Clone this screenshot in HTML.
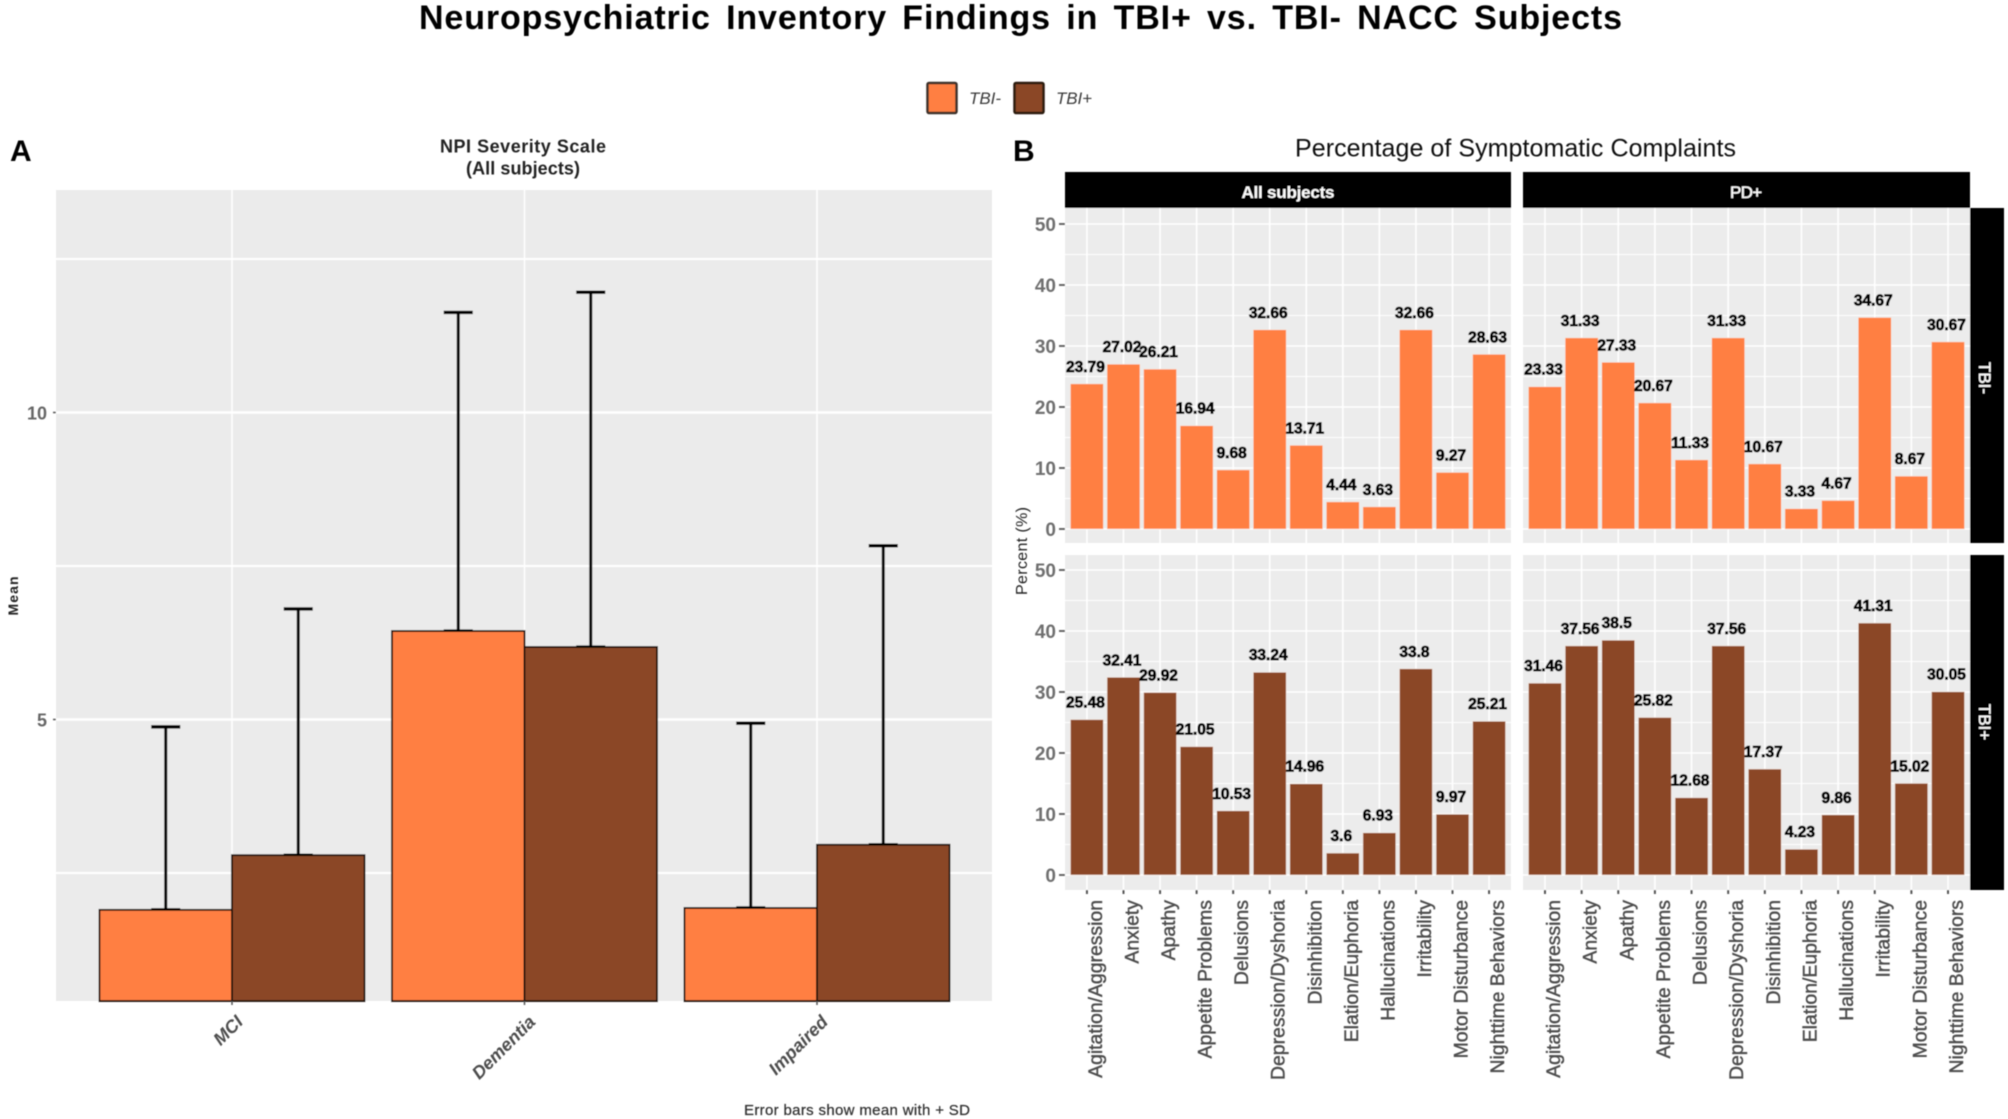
<!DOCTYPE html>
<html lang="en">
<head>
<meta charset="utf-8">
<title>Neuropsychiatric Inventory Findings</title>
<style>
html,body{margin:0;padding:0;background:#fff;width:2008px;height:1119px;overflow:hidden}
svg{display:block;font-family:"Liberation Sans",sans-serif}
</style>
</head>
<body>
<svg id="fig" xmlns="http://www.w3.org/2000/svg" width="2008" height="1119" viewBox="0 0 2008 1119">
  <defs>
    <filter id="soft" x="-5%" y="-5%" width="110%" height="110%"><feGaussianBlur stdDeviation="0.5"/></filter>
  </defs>
  <rect width="2008" height="1119" fill="#fff"/>
  <g id="root" filter="url(#soft)">
    <text x="1020.5" y="29" text-anchor="middle" font-size="34" font-weight="700" word-spacing="5" textLength="1203" lengthAdjust="spacing" fill="#000">Neuropsychiatric Inventory Findings in TBI+ vs. TBI- NACC Subjects</text>

    <g>
      <rect x="927.5" y="83" width="29" height="30" rx="1.5" fill="#FF7F42" stroke="#3d3229" stroke-width="2.5"/>
      <text x="969" y="104" font-size="17" font-style="italic" fill="#3a3a3a" textLength="32">TBI-</text>
      <rect x="1014.5" y="83" width="29" height="30" rx="1.5" fill="#8B4726" stroke="#2a1a10" stroke-width="2.5"/>
      <text x="1056" y="104" font-size="17" font-style="italic" fill="#3a3a3a" textLength="36">TBI+</text>
    </g>

    <text x="10" y="161" font-size="30" font-weight="700" fill="#000">A</text>
    <text x="1013" y="161" font-size="30" font-weight="700" fill="#000">B</text>

    <text x="523" y="152.5" text-anchor="middle" font-size="18" font-weight="700" textLength="166" fill="#222">NPI Severity Scale</text>
    <text x="523" y="174.5" text-anchor="middle" font-size="18" font-weight="700" textLength="114" fill="#222">(All subjects)</text>
    <text transform="translate(18 596) rotate(-90)" text-anchor="middle" font-size="14" font-weight="700" fill="#222" textLength="39">Mean</text>
    <text x="744" y="1115" font-size="15" font-weight="400" stroke="#333" stroke-width="0.25" fill="#333" textLength="226">Error bars show mean with + SD</text>

    <text x="1295" y="156.5" font-size="25" fill="#111" textLength="441">Percentage of Symptomatic Complaints</text>
    <text transform="translate(1027 551) rotate(-90)" text-anchor="middle" font-size="16" fill="#222" textLength="88">Percent (%)</text>

    <rect x="1065" y="172" width="446" height="36" fill="#000"/>
    <text x="1288" y="198" text-anchor="middle" font-size="17" font-weight="700" fill="#fff" textLength="93">All subjects</text>
    <rect x="1523" y="172" width="447" height="36" fill="#000"/>
    <text x="1746" y="198" text-anchor="middle" font-size="17" font-weight="400" stroke="#fff" stroke-width="0.3" fill="#fff" textLength="32">PD+</text>
    <rect x="1970" y="208" width="34" height="335" fill="#000"/>
    <text transform="translate(1979 378) rotate(90)" text-anchor="middle" font-size="17" font-weight="400" stroke="#fff" stroke-width="0.3" fill="#fff">TBI-</text>
    <rect x="1970" y="555" width="34" height="335" fill="#000"/>
    <text transform="translate(1979 722) rotate(90)" text-anchor="middle" font-size="17" font-weight="400" stroke="#fff" stroke-width="0.3" fill="#fff">TBI+</text>
  </g>
</svg>
<script>
// ---- Panel A data ----
const severityCategories = ["MCI", "Dementia", "Impaired"];
const severityMeanTbiMinus = [1.90, 6.44, 1.93];
const severityMeanTbiPlus = [2.79, 6.18, 2.96];
const severitySdTbiMinus = [2.98, 5.19, 3.01];
const severitySdTbiPlus = [4.01, 5.78, 4.87];
const severityYTicks = [5, 10];
const severityYMinorGrid = [2.5, 7.5, 12.5];

// ---- Panel B data ----
const symptomCategories = ["Agitation/Aggression", "Anxiety", "Apathy", "Appetite Problems", "Delusions", "Depression/Dyshoria", "Disinhibition", "Elation/Euphoria", "Hallucinations", "Irritability", "Motor Disturbance", "Nighttime Behaviors"];
const tbiMinusAllSubjects = [23.79, 27.02, 26.21, 16.94, 9.68, 32.66, 13.71, 4.44, 3.63, 32.66, 9.27, 28.63];
const tbiMinusPdPlus = [23.33, 31.33, 27.33, 20.67, 11.33, 31.33, 10.67, 3.33, 4.67, 34.67, 8.67, 30.67];
const tbiPlusAllSubjects = [25.48, 32.41, 29.92, 21.05, 10.53, 33.24, 14.96, 3.6, 6.93, 33.8, 9.97, 25.21];
const tbiPlusPdPlus = [31.46, 37.56, 38.5, 25.82, 12.68, 37.56, 17.37, 4.23, 9.86, 41.31, 15.02, 30.05];
const percentYTicks = [0, 10, 20, 30, 40, 50];
const percentYMinorGrid = [5, 15, 25, 35, 45];

const NS = "http://www.w3.org/2000/svg";
const root = document.getElementById("root");
const ORANGE = "#FF7F42";
const BROWN = "#8B4726";

function mk(tag, attrs, parent, text) {
  const el = document.createElementNS(NS, tag);
  for (const k in attrs) el.setAttribute(k, attrs[k]);
  if (text !== undefined) el.textContent = text;
  (parent || root).appendChild(el);
  return el;
}

// ---------- Panel A ----------
const A = { left: 56, right: 992, top: 190, bottom: 1001 };
function yA(v) { return 1026.5 - 61.4 * v; }
function xA(i) { return 232 + 292.5 * i; }
const BAR_A = 132.5;

const gA = mk("g", {});



const bgA = mk("rect", { x: A.left, y: A.top, width: A.right - A.left, height: A.bottom - A.top, fill: "#EBEBEB" }, gA);



severityYMinorGrid.forEach(function (v) {
  const l = mk("line", { x1: A.left, x2: A.right, y1: yA(v), y2: yA(v), stroke: "#fff", "stroke-width": 2 }, gA);
  
  
});
severityYTicks.forEach(function (v) {
  const l = mk("line", { x1: A.left, x2: A.right, y1: yA(v), y2: yA(v), stroke: "#fff", "stroke-width": 2.5 }, gA);
  
  
  const t = mk("line", { x1: A.left - 3, x2: A.left, y1: yA(v), y2: yA(v), stroke: "#555", "stroke-width": 1.5 }, gA);
  
  
  const lab = mk("text", { x: A.left - 9, y: yA(v) + 7, "text-anchor": "end", "font-size": 18, "font-weight": 700, fill: "#666" }, gA, String(v));
  
  
});
severityCategories.forEach(function (c, i) {
  const g = mk("line", { x1: xA(i), x2: xA(i), y1: A.top, y2: A.bottom, stroke: "#fff", "stroke-width": 1.5 }, gA);
  
  
});

function severityBar(i, mean, sd, offset, fill, nameBar, nameErr) {
  const x = xA(i) + offset;
  const b = mk("rect", { x: x, y: yA(mean), width: BAR_A, height: A.bottom - yA(mean), fill: fill, stroke: "#1c1008", "stroke-width": 1.8 }, gA);
  
  
  const cx = x + BAR_A / 2;
  const top = yA(mean + sd);
  const base = yA(mean);
  const e = mk("g", { stroke: "#000", "stroke-width": 3, fill: "none" }, gA);
  
  
  mk("line", { x1: cx, x2: cx, y1: base, y2: top }, e);
  mk("line", { x1: cx - 14.5, x2: cx + 14.5, y1: top, y2: top, "stroke-width": 3.4 }, e);
  mk("line", { x1: cx - 14.5, x2: cx + 14.5, y1: base - 0.5, y2: base - 0.5, "stroke-width": 2.4 }, e);
}
severityCategories.forEach(function (c, i) {
  severityBar(i, severityMeanTbiMinus[i], severitySdTbiMinus[i], -BAR_A, ORANGE, "severity-bar-tbi-minus", "severity-error-bar-tbi-minus");
  severityBar(i, severityMeanTbiPlus[i], severitySdTbiPlus[i], 0, BROWN, "severity-bar-tbi-plus", "severity-error-bar-tbi-plus");
  const t = mk("line", { x1: xA(i), x2: xA(i), y1: A.bottom, y2: A.bottom + 4, stroke: "#555", "stroke-width": 1.5 }, gA);
  
  
  const lab = mk("text", {
    transform: "translate(" + (xA(i) + 12) + " " + (A.bottom + 22) + ") rotate(-45)",
    "text-anchor": "end", "font-size": 18, "font-style": "italic", "font-weight": 700, fill: "#4d4d4d"
  }, gA, c);
  
  
});

// ---------- Panel B ----------
const PX = [{ left: 1065, right: 1511 }, { left: 1523, right: 1970 }];
const PY = [{ top: 208, bottom: 543, zero: 529 }, { top: 555, bottom: 890, zero: 875 }];
function xB(col, i) {
  const w = PX[col].right - PX[col].left;
  const step = w / (symptomCategories.length - 1 + 1.2);
  return PX[col].left + step * (0.6 + i);
}
function yB(row, v) { return PY[row].zero - 6.1 * v; }

function drawFacet(values, row, col, fill, slug) {
  const p = PX[col], q = PY[row];
  const g = mk("g", {});
  
  

  const bg = mk("rect", { x: p.left, y: q.top, width: p.right - p.left, height: q.bottom - q.top, fill: "#ECECEC" }, g);
  
  

  percentYMinorGrid.forEach(function (v) {
    const l = mk("line", { x1: p.left, x2: p.right, y1: yB(row, v), y2: yB(row, v), stroke: "#fff", "stroke-width": 1 }, g);
    
    
  });
  percentYTicks.forEach(function (v) {
    const l = mk("line", { x1: p.left, x2: p.right, y1: yB(row, v), y2: yB(row, v), stroke: "#fff", "stroke-width": 1.6 }, g);
    
    
    if (col === 0) {
      const t = mk("line", { x1: p.left - 6, x2: p.left, y1: yB(row, v), y2: yB(row, v), stroke: "#666", "stroke-width": 2 }, g);
      
      
      const lab = mk("text", { x: p.left - 9, y: yB(row, v) + 7, "text-anchor": "end", "font-size": 19, "font-weight": 700, fill: "#6f6f6f" }, g, String(v));
      
      
    }
  });
  symptomCategories.forEach(function (c, i) {
    const l = mk("line", { x1: xB(col, i), x2: xB(col, i), y1: q.top, y2: q.bottom, stroke: "#fff", "stroke-width": 1.6 }, g);
    
    
  });
  const step = (p.right - p.left) / (symptomCategories.length + 0.2);
  const bw = step * 0.9;
  values.forEach(function (v, i) {
    const x = xB(col, i);
    const b = mk("rect", { x: x - bw / 2, y: yB(row, v), width: bw, height: q.zero - yB(row, v), fill: fill, stroke: "#f7e4d8", "stroke-width": 0.5 }, g);
    
    
    const lab = mk("text", { x: x - 1.5, y: yB(row, v) - 12, "text-anchor": "middle", "font-size": 15.5, "font-weight": 700, fill: "#000", stroke: "#000", "stroke-width": 0.8 }, g, String(v));
    
    
  });
  if (row === 1) {
    symptomCategories.forEach(function (c, i) {
      const t = mk("line", { x1: xB(col, i), x2: xB(col, i), y1: q.bottom, y2: q.bottom + 4, stroke: "#555", "stroke-width": 2 }, g);
      
      
      const lab = mk("text", {
        transform: "translate(" + (xB(col, i) + 15) + " 900) rotate(-90)",
        "text-anchor": "end", "font-size": 19.4, fill: "#4d4d4d", stroke: "#4d4d4d", "stroke-width": 0.45
      }, g, c);
      
      
    });
  }
}
drawFacet(tbiMinusAllSubjects, 0, 0, ORANGE, "tbi-minus-all-subjects");
drawFacet(tbiMinusPdPlus, 0, 1, ORANGE, "tbi-minus-pd-plus");
drawFacet(tbiPlusAllSubjects, 1, 0, BROWN, "tbi-plus-all-subjects");
drawFacet(tbiPlusPdPlus, 1, 1, BROWN, "tbi-plus-pd-plus");
</script>
</body>
</html>
